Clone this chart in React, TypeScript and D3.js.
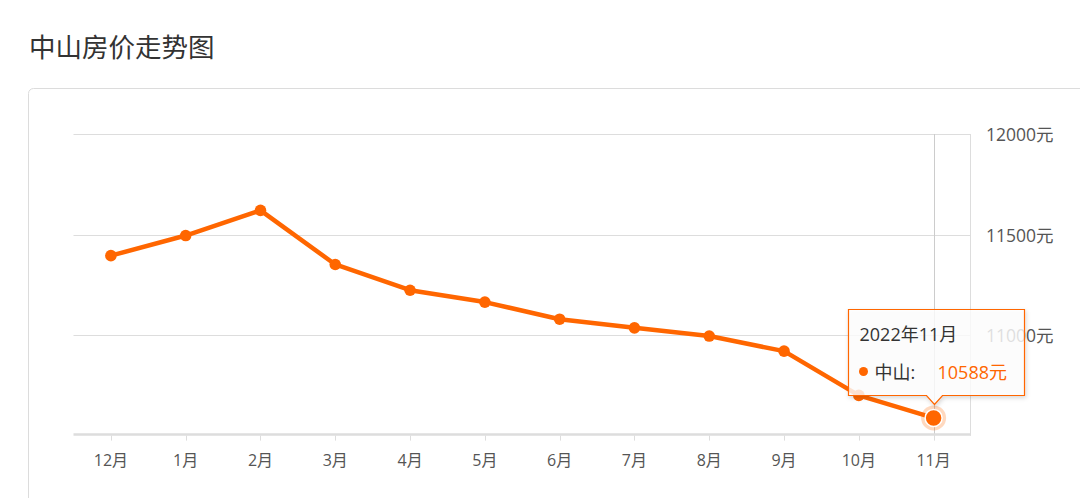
import React from 'react';
import * as d3 from 'd3';

const months = ['12月', '1月', '2月', '3月', '4月', '5月', '6月', '7月', '8月', '9月', '10月', '11月'];
const prices = [11395, 11495, 11620, 11351, 11223, 11164, 11079, 11036, 10995, 10920, 10700, 10588];
const yTicks = [11000, 11500, 12000];
const yDomain = [10500, 12000];
const chartTitle = '中山房价走势图';
const tooltipTitle = '2022年11月';
const seriesName = '中山';
const unit = '元';

const W = 1080;
const H = 498;
const ORANGE = '#ff6600';
const FONT = '"Open Sans", "Noto Sans CJK SC", sans-serif';

export default function App() {
  const x = d3.scaleBand<string>().domain(months).range([73.5, 971]).padding(0);
  const bw = x.bandwidth();
  const cx = (m: string) => (x(m) as number) + bw / 2;
  const y = d3.scaleLinear().domain(yDomain).range([435.6, 134]);
  const line = d3
    .line<number>()
    .x((_, i) => cx(months[i]))
    .y((d) => y(d));

  const lastIdx = prices.length - 1;
  const px = cx(months[lastIdx]);
  const py = y(prices[lastIdx]);
  const rpx = Math.round(px) + 0.5;
  // tooltip geometry relative to highlighted point
  const tipY = Math.round(py - 13.5) + 0.5;
  const boxBottom = tipY - 9;
  const boxTop = boxBottom - 86;
  const boxLeft = rpx - 86;
  const boxRight = rpx + 90;
  const arrowHalf = 8;
  const tooltipPath = [
    `M${boxLeft},${boxTop}`,
    `L${boxRight},${boxTop}`,
    `L${boxRight},${boxBottom}`,
    `L${rpx + arrowHalf},${boxBottom}`,
    `L${rpx},${tipY}`,
    `L${rpx - arrowHalf},${boxBottom}`,
    `L${boxLeft},${boxBottom}`,
    'Z',
  ].join(' ');

  const axisY = y(yDomain[0]);

  return (
    <div style={{ position: 'absolute', left: 0, top: 0, width: W, height: H, background: '#fff' }}>
      <svg width={W} height={H} style={{ display: 'block', fontFamily: FONT }}>
        <defs>
          <filter id="tipShadow" x="-20%" y="-20%" width="140%" height="150%">
            <feDropShadow dx="1" dy="2" stdDeviation="2" floodColor="#000" floodOpacity="0.18" />
          </filter>
        </defs>
        <text x={29} y={47} fontSize={26.5} fill="#333" dominantBaseline="central">
          {chartTitle}
        </text>
        <rect x={28.5} y={88.5} width={1120} height={480} rx={5} fill="#fff" stroke="#dcdcdc" />

        {/* grid lines */}
        {yTicks.map((t) => (
          <line key={t} x1={73.5} x2={971} y1={Math.round(y(t)) + 0.5} y2={Math.round(y(t)) + 0.5} stroke="#dddddd" strokeWidth={1} />
        ))}
        {/* right axis line */}
        <line x1={970.5} x2={970.5} y1={Math.round(y(yDomain[1])) + 0.5} y2={axisY} stroke="#dddddd" />
        {/* y labels */}
        {yTicks.map((t) => (
          <text key={t} x={986} y={y(t)} fontSize={17.5} fill="#555" dominantBaseline="central">
            {t}
            {unit}
          </text>
        ))}

        {/* axis pointer */}
        <line x1={rpx} x2={rpx} y1={Math.round(y(yDomain[1]))} y2={axisY} stroke="#cccccc" />

        {/* x axis */}
        <line x1={73.5} x2={971} y1={axisY - 1} y2={axisY - 1} stroke="#dddddd" strokeWidth={2.5} />
        {months.map((m) => (
          <g key={m}>
            <line x1={Math.round(cx(m)) + 0.5} x2={Math.round(cx(m)) + 0.5} y1={axisY} y2={axisY + 5} stroke="#dddddd" />
            <text x={cx(m)} y={460} fontSize={16} fill="#555" textAnchor="middle" dominantBaseline="central">
              {m}
            </text>
          </g>
        ))}

        {/* series */}
        <path d={line(prices) || ''} fill="none" stroke={ORANGE} strokeWidth={4.5} strokeLinejoin="round" />
        {prices.map((p, i) =>
          i === lastIdx ? null : <circle key={i} cx={cx(months[i])} cy={y(p)} r={5.8} fill={ORANGE} />
        )}
        <circle cx={px} cy={py} r={12.5} fill={ORANGE} opacity={0.25} />
        <circle cx={px} cy={py} r={8.5} fill={ORANGE} stroke="#fff" strokeWidth={1.5} />

        {/* tooltip */}
        <path d={tooltipPath} fill="#fff" fillOpacity={0.8} stroke={ORANGE} strokeWidth={1.2} filter="url(#tipShadow)" />
        <text x={boxLeft + 11} y={boxTop + 24} fontSize={18} fill="#333" dominantBaseline="central">
          {tooltipTitle}
        </text>
        <circle cx={boxLeft + 15} cy={boxTop + 62} r={4.5} fill={ORANGE} />
        <text x={boxLeft + 26} y={boxTop + 62} fontSize={18} fill="#333" dominantBaseline="central">
          {seriesName}:
        </text>
        <text x={boxLeft + 89} y={boxTop + 62} fontSize={18} fill={ORANGE} dominantBaseline="central">
          {prices[lastIdx]}
          {unit}
        </text>
      </svg>
    </div>
  );
}
